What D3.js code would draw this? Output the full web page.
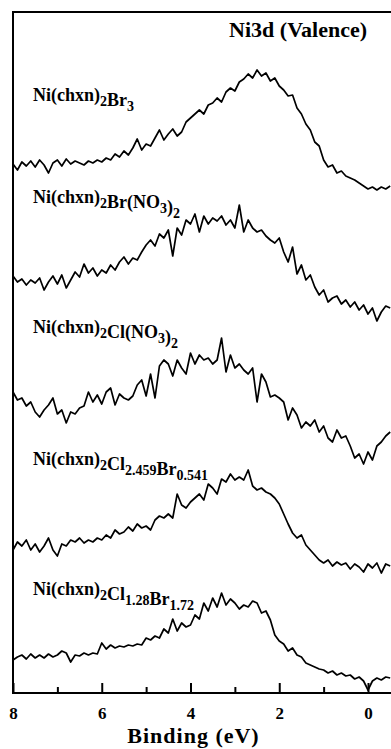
<!DOCTYPE html>
<html>
<head>
<meta charset="utf-8">
<script src="https://cdn.jsdelivr.net/npm/d3@7/dist/d3.min.js"></script>
<style>
  body { margin: 0; background: #fff; }
</style>
</head>
<body>
<div id="chart"></div>
<script>
// binding energy grid, 8.0 -> -0.5 eV in 0.1 eV steps
const energy = d3.range(80, -6, -1).map(d => d / 10);

const sampleNames = [
  'Ni(chxn)_{2}Br_{3}',
  'Ni(chxn)_{2}Br(NO_{3})_{2}',
  'Ni(chxn)_{2}Cl(NO_{3})_{2}',
  'Ni(chxn)_{2}Cl_{2.459}Br_{0.541}',
  'Ni(chxn)_{2}Cl_{1.28}Br_{1.72}'
];

// vertical offsets of the stacked spectra (arb. units)
const offsets = [493, 373, 243, 113, 0];

const br3 = [
  36, 30, 38, 34, 39, 33, 40, 35, 27, 37,
  40, 34, 41, 36, 39, 37, 35, 39, 37, 40,
  38, 42, 40, 46, 43, 49, 45, 52, 61, 50,
  56, 54, 62, 70, 60, 66, 71, 64, 68, 78,
  82, 86, 90, 86, 95, 97, 102, 98, 108, 112,
  109, 118, 121, 126, 122, 130, 124, 127, 119, 122,
  114, 110, 104, 105, 92, 86, 76, 70, 58, 54,
  40, 33, 35, 27, 29, 24, 22, 20, 17, 14,
  11, 13, 10, 13, 11, 14
];
const brNO3 = [
  44, 38, 41, 35, 40, 37, 42, 30, 38, 44,
  36, 45, 32, 40, 48, 43, 56, 47, 52, 44,
  50, 47, 55, 50, 58, 63, 56, 62, 60, 68,
  75, 80, 74, 86, 82, 90, 64, 92, 85, 100,
  96, 106, 88, 104, 96, 102, 99, 104, 95, 100,
  92, 115, 88, 100, 92, 88, 90, 84, 80, 77,
  82, 68, 58, 73, 46, 55, 40, 45, 33, 25,
  30, 18, 22, 24, 16, 20, 13, 18, 10, 15,
  6, 12, -1, 8, 14, 12
];
const clNO3 = [
  58, 50, 52, 44, 48, 38, 33, 40, 45, 52,
  36, 40, 27, 38, 36, 42, 44, 58, 48, 55,
  46, 58, 62, 45, 56, 52, 50, 54, 65, 70,
  54, 76, 52, 84, 90, 86, 74, 90, 82, 76,
  97, 86, 95, 90, 92, 86, 90, 112, 78, 95,
  82, 86, 80, 76, 82, 48, 76, 68, 53, 55,
  52, 48, 30, 42, 35, 22, 28, 24, 30, 18,
  24, 12, 8, 20, 12, 14, 4, -8, -4, -14,
  -2, -10, 4, 8, 14, 18
];
const cl2459 = [
  30, 38, 34, 40, 30, 36, 28, 34, 42, 30,
  24, 36, 34, 40, 38, 42, 37, 40, 38, 42,
  40, 45, 42, 50, 46, 48, 53, 49, 56, 52,
  54, 50, 60, 64, 62, 66, 62, 86, 75, 72,
  78, 82, 86, 80, 96, 92, 86, 101, 98, 106,
  100, 103, 100, 110, 94, 90, 92, 88, 86, 82,
  76, 66, 56, 47, 42, 45, 35, 30, 25, 20,
  17, 20, 14, 18, 15, 17, 11, 16, 13, 8,
  16, 12, 17, 7, 16, 14
];
const cl128 = [
  33, 36, 38, 34, 39, 35, 38, 35, 39, 36,
  38, 42, 40, 31, 38, 37, 40, 38, 40, 39,
  50, 44, 48, 45, 47, 46, 48, 47, 49, 48,
  55, 53, 57, 55, 64, 60, 74, 62, 70, 66,
  68, 78, 74, 90, 82, 95, 86, 100, 88, 94,
  90, 84, 88, 86, 92, 90, 80, 82, 73, 58,
  52, 49, 42, 45, 38, 36, 30, 28, 26, 24,
  23, 20, 22, 18, 20, 17, 18, 14, 16, 12,
  3, 12, 15, 13, 16, 15
];
const spectra = [br3, brNO3, clNO3, cl2459, cl128];

const xTicks = [8, 6, 4, 2, 0];
const xMinorTicks = [7, 5, 3, 1];
const title = 'Ni3d (Valence)';
const xLabel = 'Binding (eV)';

const width = 391;
const height = 749;
const serif = '"Liberation Serif", "Times New Roman", serif';

const svg = d3.select('#chart')
  .append('svg')
  .attr('width', width)
  .attr('height', height);

const x = d3.scaleLinear().domain([8, 0]).range([13, 368]);
const y = d3.scaleLinear().domain([0, 681]).range([693, 12]);

// frame (right side runs off the picture)
svg.append('rect')
  .attr('x', x(8))
  .attr('y', y(681))
  .attr('width', x(-0.7) - x(8))
  .attr('height', y(0) - y(681))
  .attr('fill', 'none')
  .attr('stroke', '#000')
  .attr('stroke-width', 2);

const line = d3.line()
  .x(d => x(d[0]))
  .y(d => y(d[1]));

spectra.forEach((s, k) => {
  svg.append('path')
    .datum(s.map((v, i) => [energy[i], v + offsets[k]]))
    .attr('d', line)
    .attr('fill', 'none')
    .attr('stroke', '#000')
    .attr('stroke-width', 1.7)
    .attr('stroke-linejoin', 'round');
});

// axis, ticks pointing inward
const axis = svg.append('g')
  .attr('transform', `translate(0,${y(0)})`)
  .call(d3.axisBottom(x).tickValues(xTicks).tickSizeInner(-10).tickSizeOuter(0).tickPadding(14));
axis.select('.domain').remove();
axis.selectAll('.tick line').attr('stroke-width', 2);
axis.selectAll('.tick text')
  .style('font-family', serif)
  .style('font-weight', 'bold')
  .style('font-size', '17px');

const minor = svg.append('g')
  .attr('transform', `translate(0,${y(0)})`)
  .call(d3.axisBottom(x).tickValues(xMinorTicks).tickSizeInner(-6).tickSizeOuter(0).tickFormat(''));
minor.select('.domain').remove();
minor.selectAll('.tick line').attr('stroke-width', 2);

svg.append('text')
  .attr('x', x(4) + 3)
  .attr('y', 743)
  .attr('text-anchor', 'middle')
  .style('font-family', serif)
  .style('font-weight', 'bold')
  .style('font-size', '22px')
  .style('letter-spacing', '1px')
  .text(xLabel);

svg.append('text')
  .attr('x', 367)
  .attr('y', 37)
  .attr('text-anchor', 'end')
  .style('font-family', serif)
  .style('font-weight', 'bold')
  .style('font-size', '22px')
  .text(title);

// sample labels with subscripts
const labelY = [101, 203, 333, 465, 595];
sampleNames.forEach((name, k) => {
  const t = svg.append('text')
    .attr('x', 33)
    .attr('y', labelY[k])
    .style('font-family', serif)
    .style('font-weight', 'bold')
    .style('font-size', '18px');
  name.split(/(_\{[^}]*\})/).filter(p => p).forEach(p => {
    if (p.startsWith('_{')) {
      t.append('tspan')
        .style('font-size', '14px')
        .attr('dy', 5)
        .text(p.slice(2, -1));
      t.append('tspan').attr('dy', -5).text('');
    } else {
      t.append('tspan').text(p);
    }
  });
});
</script>
</body>
</html>
